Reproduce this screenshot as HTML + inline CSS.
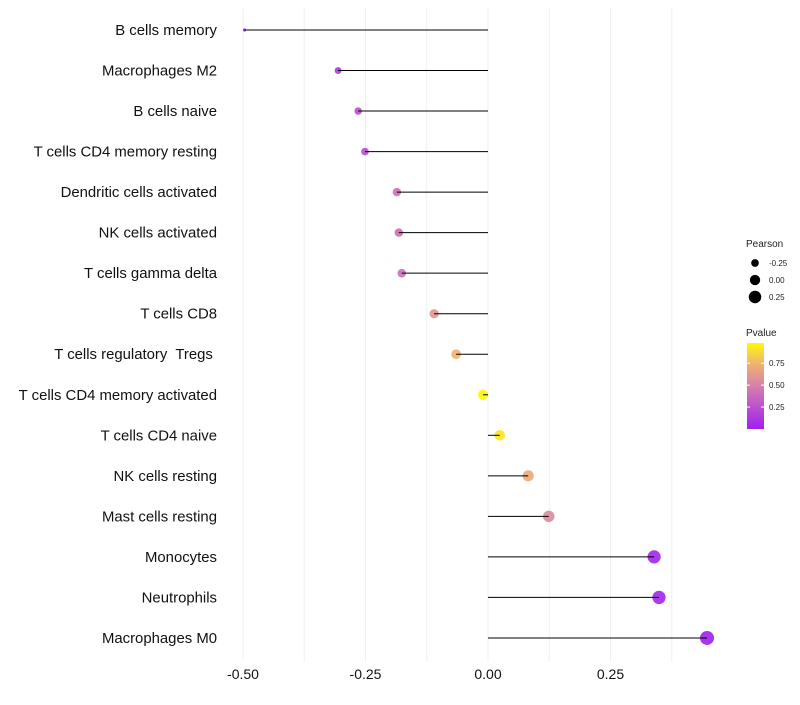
<!DOCTYPE html>
<html><head><meta charset="utf-8"><style>
body{margin:0;background:#fff;font-family:"Liberation Sans",sans-serif}
text{white-space:pre}
</style></head><body>
<svg id="chart" width="800" height="700" xmlns="http://www.w3.org/2000/svg"></svg>
<script>
const categories=["B cells memory","Macrophages M2","B cells naive","T cells CD4 memory resting","Dendritic cells activated","NK cells activated","T cells gamma delta","T cells CD8","T cells regulatory  Tregs ","T cells CD4 memory activated","T cells CD4 naive","NK cells resting","Mast cells resting","Monocytes","Neutrophils","Macrophages M0"];
const pearson=[-0.497,-0.306,-0.265,-0.251,-0.186,-0.182,-0.176,-0.110,-0.065,-0.010,0.024,0.082,0.124,0.339,0.349,0.447];
const pvalue=[0.01,0.15,0.25,0.25,0.42,0.42,0.42,0.62,0.75,0.97,0.92,0.7,0.55,0.05,0.05,0.02];
const xTicks=[-0.5,-0.25,0,0.25];
const xTickLabels=["-0.50","-0.25","0.00","0.25"];
const gridVals=[-0.5,-0.375,-0.25,-0.125,0,0.125,0.25,0.375];
const sizeLegend=[-0.25,0,0.25];
const pTicks=[0.25,0.5,0.75];

const NS="http://www.w3.org/2000/svg";
const svg=document.getElementById('chart');
const X=v=>488+v*490;
const Y=i=>30+i*40.53;
const R=v=>Math.sqrt(Math.max(2.25,26.9+49.2*v));
const stops=[[0,[160,32,240]],[0.5,[214,130,170]],[0.75,[240,180,110]],[1,[255,255,0]]];
function col(p){p=Math.max(0,Math.min(1,p));for(let k=1;k<stops.length;k++){if(p<=stops[k][0]){const a=stops[k-1],b=stops[k];const t=(p-a[0])/(b[0]-a[0]);return 'rgb('+a[1].map((c,j)=>Math.round(c+(b[1][j]-c)*t)).join(',')+')';}}return 'rgb(255,255,0)';}
function el(t,a){const e=document.createElementNS(NS,t);for(const k in a)e.setAttribute(k,a[k]);svg.appendChild(e);return e;}
gridVals.forEach(v=>{const g=el('line',{x1:X(v),x2:X(v),y1:8,y2:662,stroke:'#f0f0f0','stroke-width':1});

});
xTicks.forEach((v,i)=>{const t=el('text',{x:X(v),y:679,'text-anchor':'middle','font-size':14,fill:'#111'});t.textContent=xTickLabels[i];

});
categories.forEach((c,i)=>{
const t=el('text',{x:217,y:Y(i)+5,'text-anchor':'end','font-size':14.9,fill:'#111'});t.textContent=c;


const p=el('circle',{cx:X(pearson[i]),cy:Y(i),r:R(pearson[i]),fill:col(pvalue[i]),'fill-opacity':0.92});


const l=el('line',{x1:X(0),x2:X(pearson[i]),y1:Y(i),y2:Y(i),stroke:'#000','stroke-width':1});


});
let t=el('text',{x:746,y:247,'font-size':10,fill:'#222'});t.textContent='Pearson';


sizeLegend.forEach((v,i)=>{const y=263+i*17;
const c=el('circle',{cx:755,cy:y,r:R(v),fill:'#000'});


const tt=el('text',{x:769,y:y+3,'font-size':8,fill:'#222'});tt.textContent=v===0?'0.00':v.toFixed(2);

});
t=el('text',{x:746,y:336,'font-size':10,fill:'#222'});t.textContent='Pvalue';


const defs=el('defs',{});const lg=document.createElementNS(NS,'linearGradient');lg.setAttribute('id','pg');lg.setAttribute('x1','0');lg.setAttribute('x2','0');lg.setAttribute('y1','1');lg.setAttribute('y2','0');defs.appendChild(lg);
const pMin=0,pMax=0.98,cbTop=343,cbBot=429;
for(let k=0;k<=10;k++){const s=document.createElementNS(NS,'stop');s.setAttribute('offset',k/10);s.setAttribute('stop-color',col(pMin+(pMax-pMin)*k/10));lg.appendChild(s);}
const cb=el('rect',{x:747,y:cbTop,width:17,height:cbBot-cbTop,fill:'url(#pg)'});


const PY=p=>cbBot-(p-pMin)/(pMax-pMin)*(cbBot-cbTop);
pTicks.forEach(p=>{const y=PY(p);
el('line',{x1:747,x2:750,y1:y,y2:y,stroke:'#fff'});el('line',{x1:761,x2:764,y1:y,y2:y,stroke:'#fff'});
const tt=el('text',{x:769,y:y+3,'font-size':8,fill:'#222'});tt.textContent=p.toFixed(2);

});
</script>
</body></html>
